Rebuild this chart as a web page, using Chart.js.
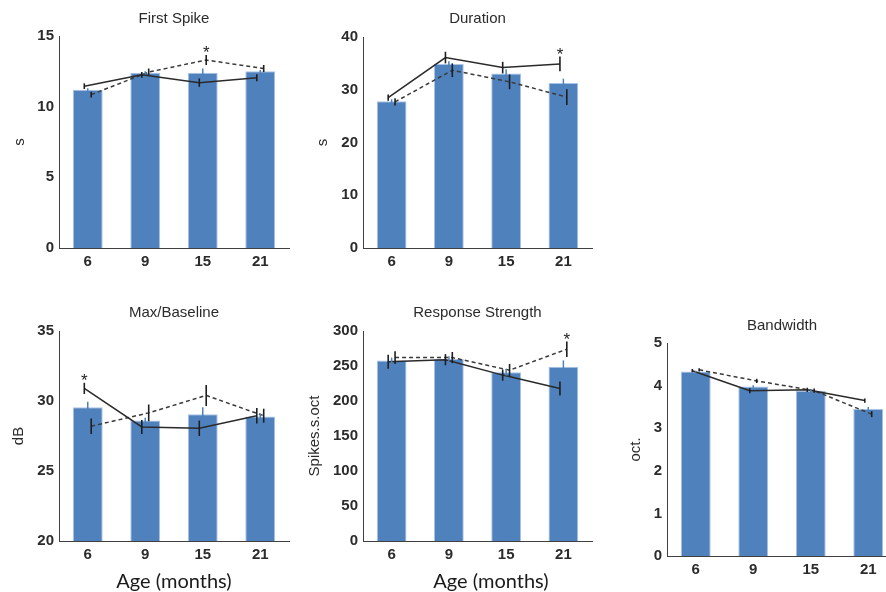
<!DOCTYPE html>
<html>
<head>
<meta charset="utf-8">
<script src="https://cdn.jsdelivr.net/npm/chart.js@4.4.0/dist/chart.umd.min.js"></script>
<style>
  html, body { margin: 0; padding: 0; background: #fff; overflow: hidden; width: 886px; height: 592px; }
  canvas { position: absolute; }
  .xlabel { position: absolute; width: 200px; text-align: center; font-family: Lato, "Open Sans", sans-serif; font-size: 20px; line-height: 24px; color: #1a1a1a; }
</style>
</head>
<body>
<canvas id="c1"></canvas>
<canvas id="c2"></canvas>
<canvas id="c3"></canvas>
<canvas id="c4"></canvas>
<canvas id="c5"></canvas>
<div class="xlabel" style="left:74px; top:568px;">Age (months)</div>
<div class="xlabel" style="left:391px; top:568px;">Age (months)</div>
<script>
// Age groups (months)
const ages = ['6', '9', '15', '21'];

// First Spike (s)
const firstSpikeTicks = [0, 5, 10, 15];
const firstSpikeBars = [11.2, 12.4, 12.4, 12.5];
const firstSpikeBarErr = [0.1, 0.1, 0.3, 0.1];
const firstSpikeSolid = [11.45, 12.25, 11.7, 12.05];
const firstSpikeSolidErr = [0.2, 0.2, 0.3, 0.25];
const firstSpikeDashed = [10.85, 12.45, 13.3, 12.7];
const firstSpikeDashedErr = [0.2, 0.25, 0.35, 0.25];
const firstSpikeStar = [1, 2];   // [series (0 solid, 1 dashed), age index]

// Duration (s)
const durationTicks = [0, 10, 20, 30, 40];
const durationBars = [27.8, 34.9, 33.1, 31.3];
const durationBarErr = [0.4, 0.5, 0.8, 0.8];
const durationSolid = [28.5, 36.1, 34.2, 34.9];
const durationSolidErr = [0.6, 1.1, 1.1, 1.4];
const durationDashed = [27.7, 33.7, 31.5, 28.6];
const durationDashedErr = [0.7, 1.3, 1.4, 1.5];
const durationStar = [0, 3];

// Max/Baseline (dB)
const maxBaseTicks = [20, 25, 30, 35];
const maxBaseBars = [29.55, 28.6, 29.05, 28.9];
const maxBaseBarErr = [0.4, 0.2, 0.5, 0.2];
const maxBaseSolid = [30.9, 28.15, 28.05, 28.95];
const maxBaseSolidErr = [0.4, 0.5, 0.55, 0.55];
const maxBaseDashed = [28.2, 29.15, 30.4, 28.95];
const maxBaseDashedErr = [0.55, 0.6, 0.75, 0.5];
const maxBaseStar = [0, 0];

// Response Strength (Spikes.s.oct)
const respTicks = [0, 50, 100, 150, 200, 250, 300];
const respBars = [258, 260, 241, 249];
const respBarErr = [4, 4, 5, 9];
const respSolid = [256, 259, 237, 218];
const respSolidErr = [10, 8, 8, 10];
const respDashed = [262, 262, 244, 274];
const respDashedErr = [9, 8, 9, 11];
const respStar = [1, 3];

// Bandwidth (oct.)
const bandTicks = [0, 1, 2, 3, 4, 5];
const bandBars = [4.33, 3.98, 3.88, 3.45];
const bandBarErr = [0.02, 0.03, 0.03, 0.05];
const bandSolid = [4.35, 3.88, 3.9, 3.65];
const bandSolidErr = [0.04, 0.06, 0.05, 0.05];
const bandDashed = [4.37, 4.11, 3.88, 3.33];
const bandDashedErr = [0.04, 0.05, 0.05, 0.07];

const FONT = "'Liberation Sans', Arial, sans-serif";
const TEXT = '#2b2b2b';

// vertical error bars for every dataset that carries an "errors" list
const errorBars = {
    id: 'errorBars',
    afterDatasetsDraw(chart) {
        const ctx = chart.ctx;
        const ys = chart.scales.y;
        chart.data.datasets.forEach((ds, di) => {
            if (!ds.errors) return;
            const meta = chart.getDatasetMeta(di);
            ctx.save();
            ctx.strokeStyle = ds.errColor;
            ctx.lineWidth = ds.errWidth;
            meta.data.forEach((el, i) => {
                const raw = ds.data[i];
                const v = typeof raw === 'number' ? raw : raw.y;
                const e = ds.errors[i];
                ctx.beginPath();
                ctx.moveTo(el.x, ys.getPixelForValue(v - e));
                ctx.lineTo(el.x, ys.getPixelForValue(v + e));
                ctx.stroke();
            });
            ctx.restore();
        });
    }
};

// significance asterisk above a chosen point
const starMarks = {
    id: 'starMarks',
    afterDatasetsDraw(chart, args, opts) {
        if (!opts.at) return;
        const [di, i] = opts.at;
        const ds = chart.data.datasets[di];
        const el = chart.getDatasetMeta(di).data[i];
        const raw = ds.data[i];
        const top = chart.scales.y.getPixelForValue(raw.y + ds.errors[i]);
        const ctx = chart.ctx;
        ctx.save();
        ctx.fillStyle = '#222';
        ctx.font = '17px ' + FONT;
        ctx.textAlign = 'center';
        ctx.textBaseline = 'alphabetic';
        ctx.fillText('*', el.x, top + 3);
        ctx.restore();
    }
};

function makePanel(id, title, yTitle, ticks, bars, barErr, solid, solidErr, dashed, dashedErr, star, box) {
    const left = box.yTitleX - 11;
    const top = box.titleY - 12;
    const cv = document.getElementById(id);
    cv.width = box.plotR + 10 - left;
    cv.height = box.plotB + 30 - top;
    cv.style.left = left + 'px';
    cv.style.top = top + 'px';

    const tickFont = { family: FONT, size: 15, weight: 'bold' };

    new Chart(cv, {
        data: {
            labels: ages,
            datasets: [
                {
                    type: 'line',
                    data: solid.map((v, i) => ({ x: i - 0.06, y: v })),
                    errors: solidErr,
                    errColor: '#1e1e1e',
                    errWidth: 1.6,
                    xAxisID: 'xl',
                    borderColor: '#2a2a2a',
                    borderWidth: 1.5,
                    pointRadius: 0,
                    order: 0
                },
                {
                    type: 'line',
                    data: dashed.map((v, i) => ({ x: i + 0.06, y: v })),
                    errors: dashedErr,
                    errColor: '#1e1e1e',
                    errWidth: 1.6,
                    xAxisID: 'xl',
                    borderColor: '#3a3a3a',
                    borderWidth: 1.5,
                    borderDash: [4, 3],
                    pointRadius: 0,
                    order: 1
                },
                {
                    type: 'bar',
                    data: bars,
                    errors: barErr,
                    errColor: '#4f81bd',
                    errWidth: 1.5,
                    xAxisID: 'x',
                    grouped: false,
                    backgroundColor: '#4f81bd',
                    borderColor: '#a9c3e8',
                    borderWidth: 1,
                    barPercentage: 0.52,
                    categoryPercentage: 1,
                    order: 2
                }
            ]
        },
        options: {
            responsive: false,
            animation: false,
            layout: { padding: { left: 0, right: 10, top: 0, bottom: 0 } },
            plugins: {
                legend: { display: false },
                tooltip: { enabled: false },
                title: {
                    display: true,
                    text: title,
                    fullSize: false,
                    color: TEXT,
                    font: { family: FONT, size: 15, weight: 'normal' },
                    padding: { top: 3, bottom: box.plotT - top - 21 }
                },
                starMarks: { at: star }
            },
            scales: {
                x: {
                    type: 'category',
                    offset: true,
                    grid: { display: false, drawTicks: false },
                    border: { display: true, color: '#404040', width: 1 },
                    ticks: { color: TEXT, font: tickFont, padding: 5, maxRotation: 0 },
                    afterFit: s => { s.height = 30; }
                },
                xl: { type: 'linear', display: false, min: -0.5, max: 3.5 },
                y: {
                    min: ticks[0],
                    max: ticks[ticks.length - 1],
                    grid: { display: false, drawTicks: false },
                    border: { display: true, color: '#404040', width: 1 },
                    ticks: { stepSize: ticks[1] - ticks[0], color: TEXT, font: tickFont, padding: 5 },
                    title: {
                        display: true,
                        text: yTitle,
                        color: TEXT,
                        font: { family: FONT, size: 15 },
                        padding: { top: 2, bottom: 0 }
                    },
                    afterFit: s => { s.width = box.plotL - left; }
                }
            }
        },
        plugins: [errorBars, starMarks]
    });
}

makePanel('c1', 'First Spike', 's', firstSpikeTicks, firstSpikeBars, firstSpikeBarErr,
    firstSpikeSolid, firstSpikeSolidErr, firstSpikeDashed, firstSpikeDashedErr, firstSpikeStar,
    { plotL: 59, plotT: 36, plotR: 289, plotB: 248, titleY: 19, yTitleX: 20 });

makePanel('c2', 'Duration', 's', durationTicks, durationBars, durationBarErr,
    durationSolid, durationSolidErr, durationDashed, durationDashedErr, durationStar,
    { plotL: 363, plotT: 37, plotR: 592, plotB: 248, titleY: 19, yTitleX: 323 });

makePanel('c3', 'Max/Baseline', 'dB', maxBaseTicks, maxBaseBars, maxBaseBarErr,
    maxBaseSolid, maxBaseSolidErr, maxBaseDashed, maxBaseDashedErr, maxBaseStar,
    { plotL: 59, plotT: 331, plotR: 289, plotB: 541, titleY: 313, yTitleX: 19 });

makePanel('c4', 'Response Strength', 'Spikes.s.oct', respTicks, respBars, respBarErr,
    respSolid, respSolidErr, respDashed, respDashedErr, respStar,
    { plotL: 363, plotT: 331, plotR: 592, plotB: 541, titleY: 313, yTitleX: 315 });

makePanel('c5', 'Bandwidth', 'oct.', bandTicks, bandBars, bandBarErr,
    bandSolid, bandSolidErr, bandDashed, bandDashedErr, null,
    { plotL: 667, plotT: 343, plotR: 897, plotB: 556, titleY: 326, yTitleX: 636 });
</script>
</body>
</html>
